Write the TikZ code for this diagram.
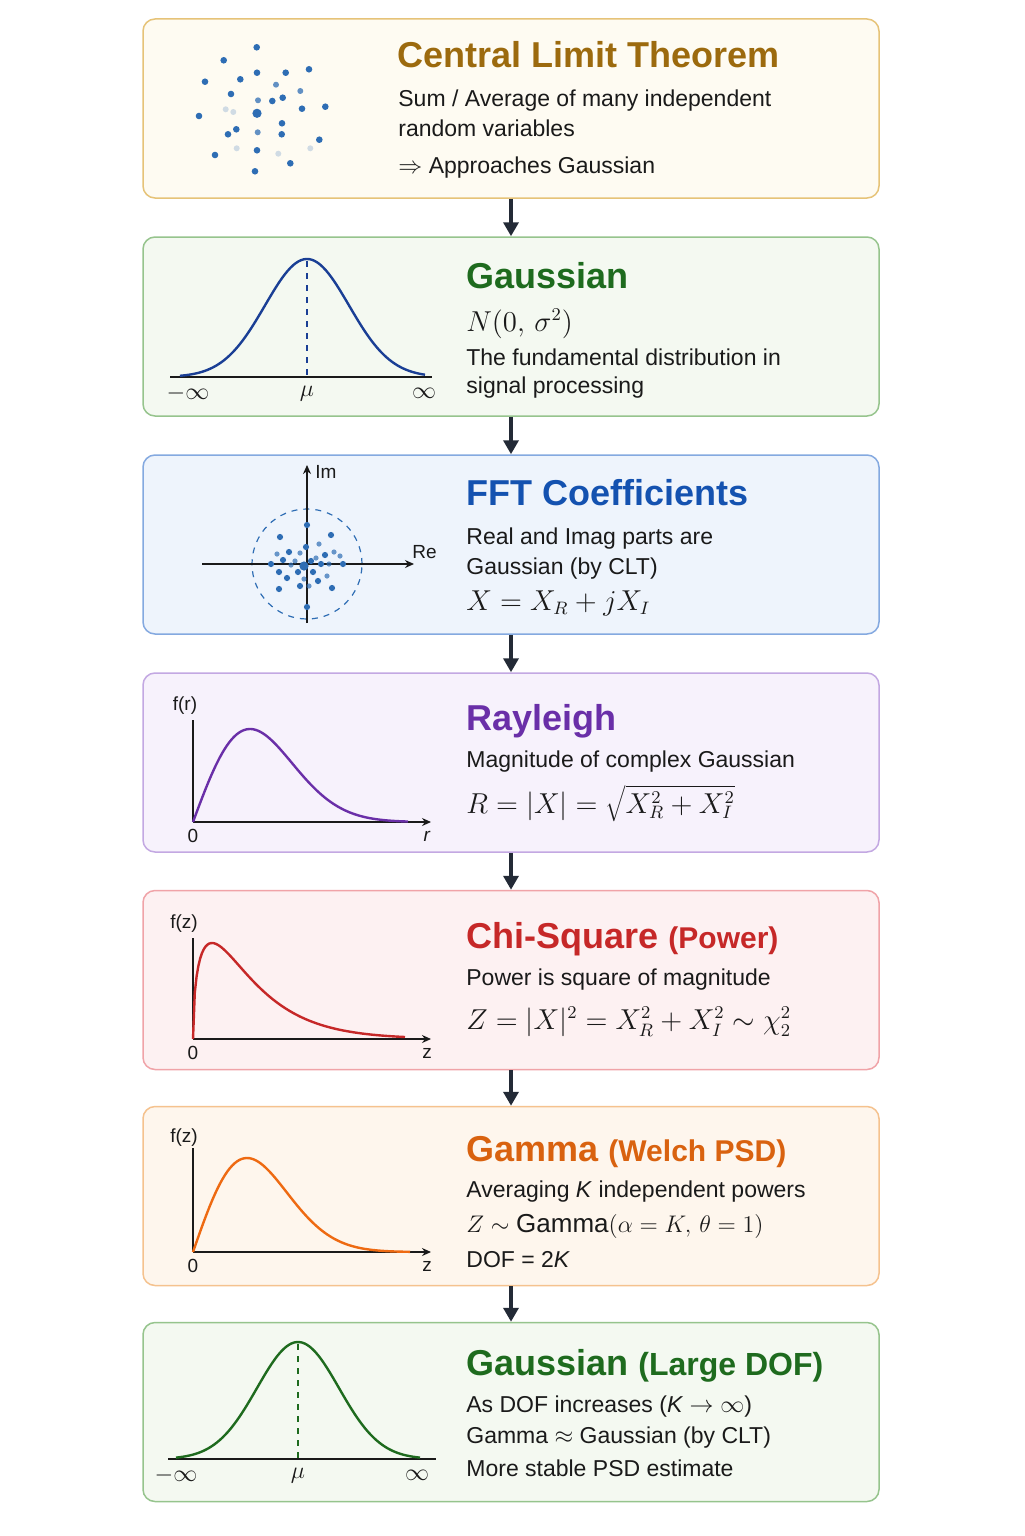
\documentclass[tikz,border=0pt]{standalone}
\usepackage[no-math]{fontspec}
\setmainfont{Liberation Sans}
\usetikzlibrary{arrows.meta}
\definecolor{ink}{HTML}{1A1A1A}
\definecolor{flowc}{HTML}{232A36}
\definecolor{dotc}{HTML}{2E6DB4}
\definecolor{bAd}{HTML}{E6C378}\definecolor{bAf}{HTML}{FEFBF2}\definecolor{tA}{HTML}{9C6A0E}
\definecolor{bBd}{HTML}{96C48D}\definecolor{bBf}{HTML}{F4F9F1}\definecolor{tB}{HTML}{1E6B1E}
\definecolor{bCd}{HTML}{84A9E0}\definecolor{bCf}{HTML}{EEF4FC}\definecolor{tC}{HTML}{1452B0}
\definecolor{bDd}{HTML}{C3A8E2}\definecolor{bDf}{HTML}{F7F2FC}\definecolor{tD}{HTML}{6A2FA8}
\definecolor{bEd}{HTML}{F0A3A8}\definecolor{bEf}{HTML}{FDF1F2}\definecolor{tE}{HTML}{C62828}
\definecolor{bFd}{HTML}{F5C28E}\definecolor{bFf}{HTML}{FEF6ED}\definecolor{tF}{HTML}{D9620F}
\definecolor{cB}{HTML}{1A3F95}\definecolor{cF}{HTML}{EE6A12}
\begin{document}
\begin{tikzpicture}[x=0.5pt,y=-0.5pt,
  box/.style={draw, rounded corners=6pt, line width=0.75pt, minimum width=368pt, minimum height=89.5pt, inner sep=0pt},
  ttl/.style={anchor=base west, inner sep=0pt, font=\fontsize{18}{20}\selectfont\bfseries},
  body/.style={anchor=base west, inner sep=0pt, text=ink, font=\fontsize{11.5}{14}\selectfont},
  frm/.style={anchor=base west, inner sep=0pt, text=ink, font=\fontsize{13.5}{16}\selectfont},
  lab/.style={inner sep=0pt, text=ink, font=\fontsize{9.5}{11}\selectfont},
  mlab/.style={inner sep=0pt, text=ink, font=\fontsize{12}{14}\selectfont},
  flow/.style={draw=flowc, line width=2pt, -{Triangle[length=7pt,width=7.5pt]}},
  axis/.style={draw=ink, line width=0.7pt},
  axarr/.style={draw=ink, line width=0.7pt, -{Stealth[length=4.5pt,width=4pt]}},
  crv/.style={line width=1.2pt},
  dot/.style={fill=dotc}
]
\fill[white] (0,0) rectangle (1024,1536);
\useasboundingbox (0,0) rectangle (1024,1536);

% boxes
\node[box, draw=bAd, fill=bAf] (b1) at (511,108.5) {};
\node[box, draw=bBd, fill=bBf] (b2) at (511,326.5) {};
\node[box, draw=bCd, fill=bCf] (b3) at (511,544.5) {};
\node[box, draw=bDd, fill=bDf] (b4) at (511,762.5) {};
\node[box, draw=bEd, fill=bEf] (b5) at (511,980) {};
\node[box, draw=bFd, fill=bFf] (b6) at (511,1196) {};
\node[box, draw=bBd, fill=bBf] (b7) at (511,1412) {};

% connectors
\draw[flow] (b1.south) -- (b2.north);
\draw[flow] (b2.south) -- (b3.north);
\draw[flow] (b3.south) -- (b4.north);
\draw[flow] (b4.south) -- (b5.north);
\draw[flow] (b5.south) -- (b6.north);
\draw[flow] (b6.south) -- (b7.north);

% ---- box 1: CLT
\foreach \p in {(256.7,47.3),(223.7,60.3),(205,81.7),(240.3,79.3),(257,72.7),(285.7,72.7),(309,69.3),(231,94),(272.3,101),(282.7,97.7),(302,108.7),(325.3,106.7),(199,116),(282,123.3),(236.3,129.3),(228,134.3),(281.7,134.3),(319.3,139.7),(257,150.3),(215,155),(290.3,163.3),(255,171.3)}
  \fill[dot] \p circle[radius=1.65pt];
\foreach \p in {(276,84.7),(300.3,91),(258,100.3),(257.7,132.3)}
  \fill[dot, opacity=0.75] \p circle[radius=1.5pt];
\foreach \p in {(225.7,109.3),(233.3,112),(236.7,148.3),(278.3,153.7),(310.3,148.3)}
  \fill[dot, opacity=0.22] \p circle[radius=1.5pt];
\fill[dot] (257,113.3) circle[radius=2.3pt];
\node[ttl, text=tA] (t1) at (397,68) {Central Limit Theorem};
\node[body] (l1a) at (398,107) {Sum / Average of many independent};
\node[body] (l1b) at (398,136) {random variables};
\node[body] (l1c) at (398,173) {$\Rightarrow$ Approaches Gaussian};

% ---- box 2: Gaussian
\draw[axis] (170,377) -- (432,377);
\draw[crv, cB] plot[domain=-127:118, samples=90] ({307+\x},{377-118*exp(-0.5*(\x/42)*(\x/42))});
\draw[cB, dashed, line width=0.6pt] (307,261) -- (307,377);
\node[mlab] (m2a) at (188,393) {$-\infty$};
\node[mlab] (m2b) at (307,394) {$\mu$};
\node[mlab] (m2c) at (424,393) {$\infty$};
\node[ttl, text=tB] (t2) at (466,288) {Gaussian};
\node[frm] (l2a) at (466,331) {$N(0,\,\sigma^2)$};
\node[body] (l2b) at (466,365) {The fundamental distribution in};
\node[body] (l2c) at (466,393) {signal processing};

% ---- box 3: FFT
\draw[dotc, dashed, line width=0.6pt] (307,564) circle[radius=27.5pt];
\draw[axarr] (202,564) -- (414,564);
\draw[axarr] (307,623) -- (307,465);
\node[lab, anchor=west] (im) at (315,472) {Im};
\node[lab, anchor=west] (re) at (412,552) {Re};
\foreach \p in {(307,525),(280,537),(331,535),(306,547),(289,552),(325,555),(283,560),(311,561),(271,564),(321,564),(343,564),(279,572),(313,572),(287,578),(318,581),(300,586),(279,589),(332,588),(307,607),(298,572)}
  \fill[dot] \p circle[radius=1.55pt];
\foreach \p in {(319,544),(300,553),(340,556),(295,561),(316,558),(291,565),(329,564),(327,576),(304,579),(309,586),(334,552),(277,554)}
  \fill[dot, opacity=0.7] \p circle[radius=1.3pt];
\fill[dot] (304,566) circle[radius=2.3pt];
\node[ttl, text=tC] (t3) at (466,505) {FFT Coefficients};
\node[body] (l3a) at (466,544) {Real and Imag parts are};
\node[body] (l3b) at (466,574) {Gaussian (by CLT)};
\node[frm] (l3c) at (466,610) {$X = X_R + jX_I$};

% ---- box 4: Rayleigh
\draw[axis] (193,720) -- (193,822);
\draw[axarr] (193,822) -- (431,822);
\draw[crv, tD] plot[domain=0:215, samples=90] ({193+\x},{822-93*(\x/57)*exp(0.5-0.5*(\x/57)*(\x/57))});
\node[lab] (f4) at (185,706) {f(r)};
\node[lab] (o4) at (193,836) {0};
\node[lab] (r4) at (427,836) {\textit{r}};
\node[ttl, text=tD] (t4) at (466,730) {Rayleigh};
\node[body] (l4a) at (466,767) {Magnitude of complex Gaussian};
\node[frm] (l4b) at (466,813) {$R = |X| = \sqrt{X_R^2 + X_I^2}$};

% ---- box 5: Chi-square
\draw[axis] (193,938) -- (193,1039);
\draw[axarr] (193,1039) -- (431,1039);
\draw[crv, tE] plot[domain=0:212, samples=120] ({193+\x},{1039-96*sqrt(\x/19)*exp(-(\x-19)/38)});
\node[lab] (f5) at (184,924) {f(z)};
\node[lab] (o5) at (193,1053) {0};
\node[lab] (z5) at (427,1053) {z};
\node[ttl, text=tE] (t5) at (466,948) {Chi-Square {\fontsize{15}{17}\selectfont(Power)}};
\node[body] (l5a) at (466,985) {Power is square of magnitude};
\node[frm] (l5b) at (466,1029) {$Z = |X|^2 = X_R^2 + X_I^2 \sim \chi_2^2$};

% ---- box 6: Gamma
\draw[axis] (193,1148) -- (193,1252);
\draw[axarr] (193,1252) -- (431,1252);
\draw[crv, cF] plot[domain=0:217, samples=90] ({193+\x},{1252-94*(\x/54)*exp(0.5-0.5*(\x/54)*(\x/54))});
\node[lab] (f6) at (184,1138) {f(z)};
\node[lab] (o6) at (193,1266) {0};
\node[lab] (z6) at (427,1266) {z};
\node[ttl, text=tF] (t6) at (466,1161) {Gamma {\fontsize{15}{17}\selectfont(Welch PSD)}};
\node[body] (l6a) at (466,1197) {Averaging \textit{K} independent powers};
\node[frm, font=\fontsize{13}{15}\selectfont] (l6b) at (466,1232) {$Z \sim \mbox{Gamma}(\alpha = K,\, \theta = 1)$};
\node[body] (l6c) at (466,1267) {DOF = 2\textit{K}};

% ---- box 7: Gaussian (Large DOF)
\draw[axis] (168,1459) -- (436,1459);
\draw[crv, tB] plot[domain=-122:122, samples=90] ({298+\x},{1459-117*exp(-0.5*(\x/41)*(\x/41))});
\draw[tB, dashed, line width=0.6pt] (298,1344) -- (298,1459);
\node[mlab] (m7a) at (176,1475) {$-\infty$};
\node[mlab] (m7b) at (298,1476) {$\mu$};
\node[mlab] (m7c) at (417,1475) {$\infty$};
\node[ttl, text=tB] (t7) at (466,1375) {Gaussian {\fontsize{16}{18}\selectfont(Large DOF)}};
\node[body] (l7a) at (466,1412) {As DOF increases (\textit{K} $\to\infty$)};
\node[body] (l7b) at (466,1443) {Gamma $\approx$ Gaussian (by CLT)};
\node[body] (l7c) at (466,1476) {More stable PSD estimate};
\end{tikzpicture}
\end{document}
